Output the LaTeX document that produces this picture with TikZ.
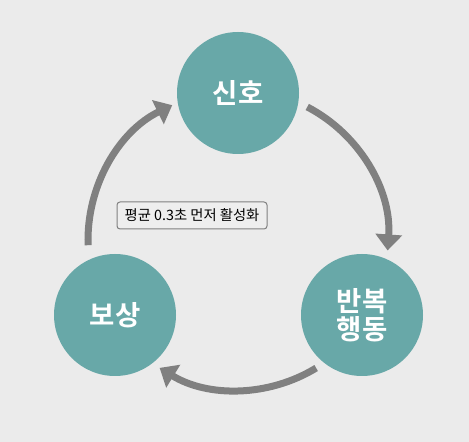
\documentclass[tikz,border=0pt]{standalone}
\usepackage{fontspec}
\newfontfamily\krfont{Noto Sans CJK KR}
\newfontfamily\krbold{Noto Sans CJK KR Bold}
\usetikzlibrary{arrows.meta,calc}
\definecolor{bgc}{HTML}{EBEBEB}
\definecolor{teal1}{HTML}{68A8A8}
\definecolor{arrc}{HTML}{808080}
\definecolor{boxfill}{HTML}{EEEEEE}
\definecolor{boxline}{HTML}{808080}
\begin{document}
\begin{tikzpicture}[x=1pt,y=1pt,
  stage/.style={circle,fill=teal1,minimum size=122pt,inner sep=0pt,text=white,
    font=\krbold\fontsize{27.5}{33}\selectfont,align=center},
  arr/.style={draw=arrc,line width=7pt,-{Triangle[width=26pt,length=16pt]}},
  note/.style={draw=boxline,fill=boxfill,rounded corners=3pt,line width=1pt,
    minimum width=150pt,minimum height=27pt,inner sep=1pt,
    font=\krfont\fontsize{14.3}{16}\selectfont}]
\fill[bgc] (0,0) rectangle (469,442);
\useasboundingbox (0,0) rectangle (469,442);
\coordinate (C) at (238,202);
\node[stage] (sig) at (238,349) {신호};
\node[stage] (rep) at (362,127) {반복\\[-5pt]행동};
\node[stage] (rew) at (115,127) {보상};
\node[note] (lab) at (192,226.5) {평균 0.3초 먼저 활성화};
\draw[arr] ($(C)+(62.5:150)$) arc[start angle=62.5,end angle=-4,radius=150];
\draw[arr] ($(C)+(-58.6:150)$) arc[start angle=-58.6,end angle=-121.5,radius=150];
\draw[arr] ($(C)+(182:150)$) arc[start angle=182,end angle=116,radius=150];
\end{tikzpicture}
\end{document}
